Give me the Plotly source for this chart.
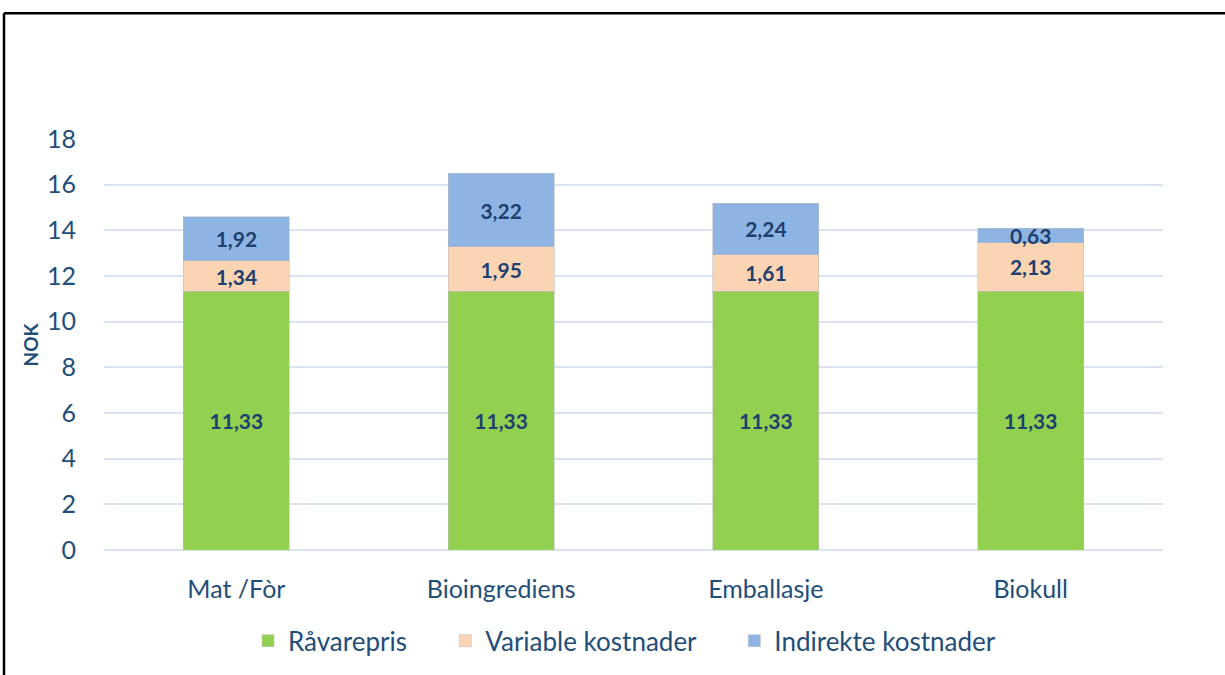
import plotly.graph_objects as go

# Data
CATEGORIES = ["Mat /Fòr", "Bioingrediens", "Emballasje", "Biokull"]
RAVAREPRIS = [11.33, 11.33, 11.33, 11.33]
VARIABLE = [1.34, 1.95, 1.61, 2.13]
INDIREKTE = [1.92, 3.22, 2.24, 0.63]
SERIES_NAMES = ["Råvarepris", "Variable kostnader", "Indirekte kostnader"]

# Palette
GREEN = "#92D050"
PEACH = "#FBD4B4"
BLUE = "#8EB4E3"
TEXT = "#1F4E79"
LABEL = "#1F3F6E"
GRID = "#D9E3F2"
FONT = "Lato, 'Open Sans', sans-serif"

# plot box in pixels
L, R, T, B = 104, 62, 139, 124
W, H = 1225, 675
PW, PH = W - L - R, H - T - B
PAD = "\u00a0" * 5  # extra room between legend entries


def _fmt(v):
    return f"{v:.2f}".replace(".", ",")


fig = go.Figure()
for i, (name, vals, clr) in enumerate(zip(SERIES_NAMES, [RAVAREPRIS, VARIABLE, INDIREKTE], [GREEN, PEACH, BLUE])):
    fig.add_trace(go.Bar(
        x=CATEGORIES, y=vals, name=name + (PAD if i < 2 else ""),
        marker=dict(color=clr, line=dict(color="rgba(190,190,190,0.55)", width=1)),
        text=[_fmt(v) for v in vals],
        textposition="inside", insidetextanchor="middle",
        constraintext="none", cliponaxis=False,
        textfont=dict(size=21, color=LABEL, family=FONT, weight="bold"),
        width=0.4,
    ))

fig.update_layout(
    barmode="stack",
    width=W, height=H,
    margin=dict(l=L, r=R, t=T, b=B),
    paper_bgcolor="white", plot_bgcolor="white",
    font=dict(family=FONT, color=TEXT),
    showlegend=True,
    legend=dict(
        orientation="h", x=0.5 - 9 / PW, xanchor="center", y=-0.218, yanchor="middle",
        font=dict(size=26, color=TEXT), traceorder="normal",
        itemwidth=30,
    ),
)
fig.update_yaxes(
    range=[0, 18], dtick=2, showgrid=True, gridcolor=GRID, gridwidth=1.5,
    zeroline=True, zerolinecolor=GRID, zerolinewidth=1.5,
    tickfont=dict(size=25, color=TEXT), ticklabelstandoff=27, showline=False,
)
fig.update_xaxes(
    tickfont=dict(size=25, color=TEXT), ticklabelstandoff=22, showline=False,
)

# axis title
fig.add_annotation(
    text="<b>NOK</b>", xref="paper", yref="paper",
    x=(30 - L) / PW, y=0.5, xanchor="center", yanchor="middle",
    textangle=-90, showarrow=False,
    font=dict(size=19, color=TEXT),
)

# frame (top and left only)
top_y = (H - B - 13) / PH
left_x = (4 - L) / PW
fig.add_shape(type="line", xref="paper", yref="paper",
              x0=left_x, x1=(W + 5 - L) / PW, y0=top_y, y1=top_y,
              line=dict(color="black", width=2.5))
fig.add_shape(type="line", xref="paper", yref="paper",
              x0=left_x, x1=left_x, y0=top_y, y1=-(B + 10) / PH,
              line=dict(color="black", width=2.5))

fig.write_html("out.html", config={"displayModeBar": False},
               post_script="document.body.style.margin='0';")
